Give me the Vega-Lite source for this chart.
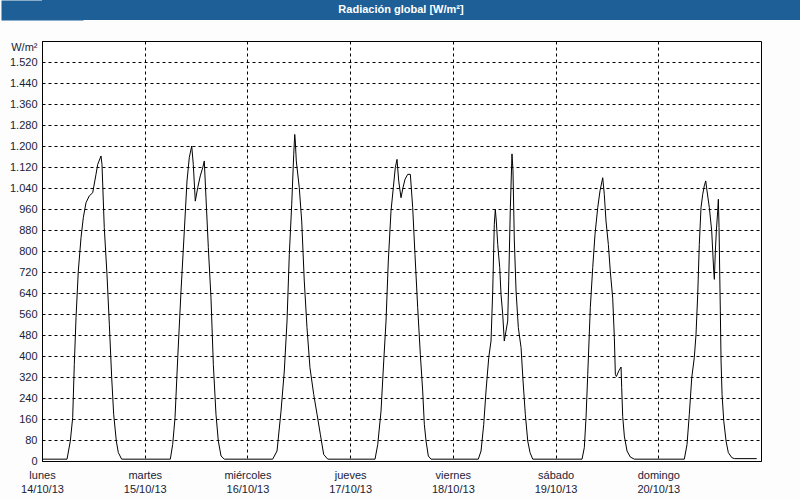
{
  "$schema": "https://vega.github.io/schema/vega-lite/v6.json",
  "padding": 0,
  "background": "#fcfdfc",
  "spacing": 20,
  "config": {
    "font": "Liberation Sans"
  },
  "datasets": {
    "titulo": [{"texto": "Radiación global [W/m²]"}],
    "rad": [
      {"t": "2013-10-14T00:00", "v": 7},
      {"t": "2013-10-14T05:51", "v": 7},
      {"t": "2013-10-14T06:37", "v": 76},
      {"t": "2013-10-14T07:10", "v": 165},
      {"t": "2013-10-14T07:33", "v": 368},
      {"t": "2013-10-14T07:57", "v": 546},
      {"t": "2013-10-14T08:29", "v": 724},
      {"t": "2013-10-14T09:07", "v": 851},
      {"t": "2013-10-14T09:39", "v": 927},
      {"t": "2013-10-14T10:17", "v": 984},
      {"t": "2013-10-14T11:03", "v": 1010},
      {"t": "2013-10-14T11:51", "v": 1022},
      {"t": "2013-10-14T12:37", "v": 1092},
      {"t": "2013-10-14T13:01", "v": 1130},
      {"t": "2013-10-14T13:47", "v": 1162},
      {"t": "2013-10-14T14:01", "v": 1130},
      {"t": "2013-10-14T14:33", "v": 889},
      {"t": "2013-10-14T15:11", "v": 711},
      {"t": "2013-10-14T15:44", "v": 521},
      {"t": "2013-10-14T16:17", "v": 317},
      {"t": "2013-10-14T16:45", "v": 178},
      {"t": "2013-10-14T17:22", "v": 76},
      {"t": "2013-10-14T17:50", "v": 32},
      {"t": "2013-10-14T18:37", "v": 7},
      {"t": "2013-10-15T05:59", "v": 7},
      {"t": "2013-10-15T06:32", "v": 63},
      {"t": "2013-10-15T07:05", "v": 165},
      {"t": "2013-10-15T07:43", "v": 394},
      {"t": "2013-10-15T08:29", "v": 648},
      {"t": "2013-10-15T09:15", "v": 876},
      {"t": "2013-10-15T09:53", "v": 1067},
      {"t": "2013-10-15T10:25", "v": 1156},
      {"t": "2013-10-15T10:59", "v": 1200},
      {"t": "2013-10-15T11:21", "v": 1130},
      {"t": "2013-10-15T11:49", "v": 990},
      {"t": "2013-10-15T12:23", "v": 1041},
      {"t": "2013-10-15T12:59", "v": 1086},
      {"t": "2013-10-15T13:33", "v": 1117},
      {"t": "2013-10-15T13:55", "v": 1143},
      {"t": "2013-10-15T14:19", "v": 1003},
      {"t": "2013-10-15T14:52", "v": 813},
      {"t": "2013-10-15T15:29", "v": 622},
      {"t": "2013-10-15T16:02", "v": 368},
      {"t": "2013-10-15T16:39", "v": 178},
      {"t": "2013-10-15T17:12", "v": 76},
      {"t": "2013-10-15T17:50", "v": 19},
      {"t": "2013-10-15T18:36", "v": 7},
      {"t": "2013-10-16T05:54", "v": 7},
      {"t": "2013-10-16T06:55", "v": 38},
      {"t": "2013-10-16T07:51", "v": 190},
      {"t": "2013-10-16T08:37", "v": 343},
      {"t": "2013-10-16T09:15", "v": 533},
      {"t": "2013-10-16T09:47", "v": 787},
      {"t": "2013-10-16T10:21", "v": 978},
      {"t": "2013-10-16T10:49", "v": 1168},
      {"t": "2013-10-16T11:03", "v": 1244},
      {"t": "2013-10-16T11:11", "v": 1219},
      {"t": "2013-10-16T11:25", "v": 1143},
      {"t": "2013-10-16T12:07", "v": 1041},
      {"t": "2013-10-16T12:41", "v": 914},
      {"t": "2013-10-16T13:17", "v": 686},
      {"t": "2013-10-16T13:55", "v": 508},
      {"t": "2013-10-16T14:37", "v": 355},
      {"t": "2013-10-16T15:29", "v": 254},
      {"t": "2013-10-16T16:16", "v": 178},
      {"t": "2013-10-16T17:02", "v": 102},
      {"t": "2013-10-16T17:49", "v": 25},
      {"t": "2013-10-16T18:46", "v": 7},
      {"t": "2013-10-17T05:49", "v": 7},
      {"t": "2013-10-17T06:27", "v": 63},
      {"t": "2013-10-17T07:13", "v": 190},
      {"t": "2013-10-17T07:51", "v": 381},
      {"t": "2013-10-17T08:23", "v": 533},
      {"t": "2013-10-17T08:55", "v": 762},
      {"t": "2013-10-17T09:33", "v": 952},
      {"t": "2013-10-17T10:05", "v": 1041},
      {"t": "2013-10-17T10:33", "v": 1117},
      {"t": "2013-10-17T10:57", "v": 1149},
      {"t": "2013-10-17T11:21", "v": 1067},
      {"t": "2013-10-17T11:53", "v": 1003},
      {"t": "2013-10-17T12:21", "v": 1041},
      {"t": "2013-10-17T12:49", "v": 1073},
      {"t": "2013-10-17T13:27", "v": 1092},
      {"t": "2013-10-17T14:04", "v": 1092},
      {"t": "2013-10-17T14:37", "v": 965},
      {"t": "2013-10-17T15:09", "v": 787},
      {"t": "2013-10-17T15:47", "v": 584},
      {"t": "2013-10-17T16:24", "v": 406},
      {"t": "2013-10-17T16:57", "v": 267},
      {"t": "2013-10-17T17:20", "v": 140},
      {"t": "2013-10-17T17:44", "v": 76},
      {"t": "2013-10-17T18:16", "v": 19},
      {"t": "2013-10-17T18:54", "v": 7},
      {"t": "2013-10-18T05:57", "v": 7},
      {"t": "2013-10-18T06:35", "v": 38},
      {"t": "2013-10-18T07:13", "v": 140},
      {"t": "2013-10-18T07:45", "v": 267},
      {"t": "2013-10-18T08:23", "v": 394},
      {"t": "2013-10-18T08:55", "v": 457},
      {"t": "2013-10-18T09:19", "v": 648},
      {"t": "2013-10-18T09:41", "v": 902},
      {"t": "2013-10-18T09:55", "v": 959},
      {"t": "2013-10-18T10:09", "v": 914},
      {"t": "2013-10-18T10:29", "v": 825},
      {"t": "2013-10-18T10:57", "v": 737},
      {"t": "2013-10-18T11:15", "v": 635},
      {"t": "2013-10-18T11:39", "v": 559},
      {"t": "2013-10-18T12:01", "v": 457},
      {"t": "2013-10-18T12:25", "v": 495},
      {"t": "2013-10-18T12:49", "v": 533},
      {"t": "2013-10-18T13:03", "v": 686},
      {"t": "2013-10-18T13:26", "v": 965},
      {"t": "2013-10-18T13:49", "v": 1170},
      {"t": "2013-10-18T14:03", "v": 1105},
      {"t": "2013-10-18T14:22", "v": 838},
      {"t": "2013-10-18T14:46", "v": 648},
      {"t": "2013-10-18T15:18", "v": 508},
      {"t": "2013-10-18T15:56", "v": 432},
      {"t": "2013-10-18T16:24", "v": 305},
      {"t": "2013-10-18T16:56", "v": 178},
      {"t": "2013-10-18T17:30", "v": 76},
      {"t": "2013-10-18T18:02", "v": 32},
      {"t": "2013-10-18T18:40", "v": 7},
      {"t": "2013-10-19T06:11", "v": 7},
      {"t": "2013-10-19T06:43", "v": 51},
      {"t": "2013-10-19T07:07", "v": 165},
      {"t": "2013-10-19T07:31", "v": 330},
      {"t": "2013-10-19T08:07", "v": 584},
      {"t": "2013-10-19T08:41", "v": 737},
      {"t": "2013-10-19T09:13", "v": 864},
      {"t": "2013-10-19T09:51", "v": 965},
      {"t": "2013-10-19T10:23", "v": 1029},
      {"t": "2013-10-19T11:01", "v": 1079},
      {"t": "2013-10-19T11:23", "v": 1016},
      {"t": "2013-10-19T11:47", "v": 914},
      {"t": "2013-10-19T12:20", "v": 825},
      {"t": "2013-10-19T12:48", "v": 720},
      {"t": "2013-10-19T13:21", "v": 620},
      {"t": "2013-10-19T13:44", "v": 470},
      {"t": "2013-10-19T13:58", "v": 330},
      {"t": "2013-10-19T14:12", "v": 322},
      {"t": "2013-10-19T14:50", "v": 345},
      {"t": "2013-10-19T15:18", "v": 358},
      {"t": "2013-10-19T15:27", "v": 280},
      {"t": "2013-10-19T15:41", "v": 170},
      {"t": "2013-10-19T16:04", "v": 95},
      {"t": "2013-10-19T16:42", "v": 38},
      {"t": "2013-10-19T17:28", "v": 15},
      {"t": "2013-10-19T18:24", "v": 7},
      {"t": "2013-10-20T06:05", "v": 7},
      {"t": "2013-10-20T06:43", "v": 63},
      {"t": "2013-10-20T07:15", "v": 178},
      {"t": "2013-10-20T07:49", "v": 317},
      {"t": "2013-10-20T08:25", "v": 394},
      {"t": "2013-10-20T08:49", "v": 483},
      {"t": "2013-10-20T09:13", "v": 635},
      {"t": "2013-10-20T09:35", "v": 825},
      {"t": "2013-10-20T09:59", "v": 965},
      {"t": "2013-10-20T10:23", "v": 1016},
      {"t": "2013-10-20T10:45", "v": 1048},
      {"t": "2013-10-20T11:05", "v": 1067},
      {"t": "2013-10-20T11:23", "v": 1029},
      {"t": "2013-10-20T11:56", "v": 965},
      {"t": "2013-10-20T12:29", "v": 876},
      {"t": "2013-10-20T12:43", "v": 800},
      {"t": "2013-10-20T12:57", "v": 724},
      {"t": "2013-10-20T13:06", "v": 692},
      {"t": "2013-10-20T13:20", "v": 800},
      {"t": "2013-10-20T13:34", "v": 876},
      {"t": "2013-10-20T13:53", "v": 952},
      {"t": "2013-10-20T14:02", "v": 997},
      {"t": "2013-10-20T14:12", "v": 889},
      {"t": "2013-10-20T14:21", "v": 724},
      {"t": "2013-10-20T14:30", "v": 571},
      {"t": "2013-10-20T14:40", "v": 381},
      {"t": "2013-10-20T14:54", "v": 254},
      {"t": "2013-10-20T15:18", "v": 152},
      {"t": "2013-10-20T15:50", "v": 76},
      {"t": "2013-10-20T16:22", "v": 32},
      {"t": "2013-10-20T17:10", "v": 13},
      {"t": "2013-10-20T17:46", "v": 9},
      {"t": "2013-10-20T23:00", "v": 9}
    ]
  },
  "vconcat": [
    {
      "width": 759,
      "height": 20,
      "view": {"fill": "#1d5f96", "stroke": null},
      "data": {"name": "titulo"},
      "mark": {"type": "text", "color": "white", "fontWeight": "bold", "fontSize": 11, "baseline": "middle", "align": "center", "font": "Liberation Sans", "dx": -20.5},
      "encoding": {
        "text": {"field": "texto", "type": "nominal"},
        "y": {
          "field": "texto",
          "type": "nominal",
          "axis": {
            "title": null,
            "labels": false,
            "ticks": false,
            "grid": false,
            "domain": true,
            "domainColor": "#1d5f96",
            "domainWidth": 82,
            "domainCap": "butt",
            "minExtent": 41,
            "maxExtent": 41
          }
        }
      }
    },
    {
      "width": 719,
      "height": 420,
      "view": {"fill": "white", "stroke": "black", "strokeWidth": 1},
      "data": {"name": "rad"},
      "mark": {"type": "line", "color": "black", "strokeWidth": 1, "interpolate": "linear"},
      "encoding": {
        "x": {
          "field": "t",
          "type": "temporal",
          "scale": {"domain": [{"year": 2013, "month": 10, "date": 14}, {"year": 2013, "month": 10, "date": 21}], "nice": false},
          "axis": {
            "title": null,
            "values": [
              {"year": 2013, "month": 10, "date": 14},
              {"year": 2013, "month": 10, "date": 15},
              {"year": 2013, "month": 10, "date": 16},
              {"year": 2013, "month": 10, "date": 17},
              {"year": 2013, "month": 10, "date": 18},
              {"year": 2013, "month": 10, "date": 19},
              {"year": 2013, "month": 10, "date": 20}
            ],
            "labelExpr": "[['domingo','lunes','martes','miércoles','jueves','viernes','sábado'][day(datum.value)], timeFormat(datum.value, '%d/%m/%y')]",
            "labelFont": "Liberation Sans",
            "labelFontSize": 11,
            "labelColor": "#1a2238",
            "labelLineHeight": 14,
            "labelPadding": 8,
            "labelFlush": false,
            "labelOverlap": false,
            "ticks": false,
            "domain": true,
            "domainColor": "black",
            "domainWidth": 1,
            "grid": true,
            "gridColor": "black",
            "gridOpacity": 1,
            "gridWidth": 1,
            "gridDash": [3, 3],
            "minExtent": 40,
            "maxExtent": 40
          }
        },
        "y": {
          "field": "v",
          "type": "quantitative",
          "scale": {"domain": [0, 1600], "nice": false},
          "axis": {
            "title": "W/m²",
            "titleAngle": 0,
            "titleAlign": "right",
            "titleBaseline": "middle",
            "titleX": -5,
            "titleY": 6,
            "titleFont": "Liberation Sans",
            "titleFontSize": 11,
            "titleFontWeight": "normal",
            "titleColor": "#1a2238",
            "values": [0, 80, 160, 240, 320, 400, 480, 560, 640, 720, 800, 880, 960, 1040, 1120, 1200, 1280, 1360, 1440, 1520],
            "labelExpr": "replace(format(datum.value, ',d'), ',', '.')",
            "labelFont": "Liberation Sans",
            "labelFontSize": 11,
            "labelColor": "#1a2238",
            "labelPadding": 5,
            "labelOverlap": false,
            "ticks": false,
            "domain": true,
            "domainColor": "black",
            "grid": true,
            "gridColor": "black",
            "gridOpacity": 1,
            "gridWidth": 1,
            "gridDash": [3, 3],
            "minExtent": 41,
            "maxExtent": 41
          }
        }
      }
    }
  ]
}
